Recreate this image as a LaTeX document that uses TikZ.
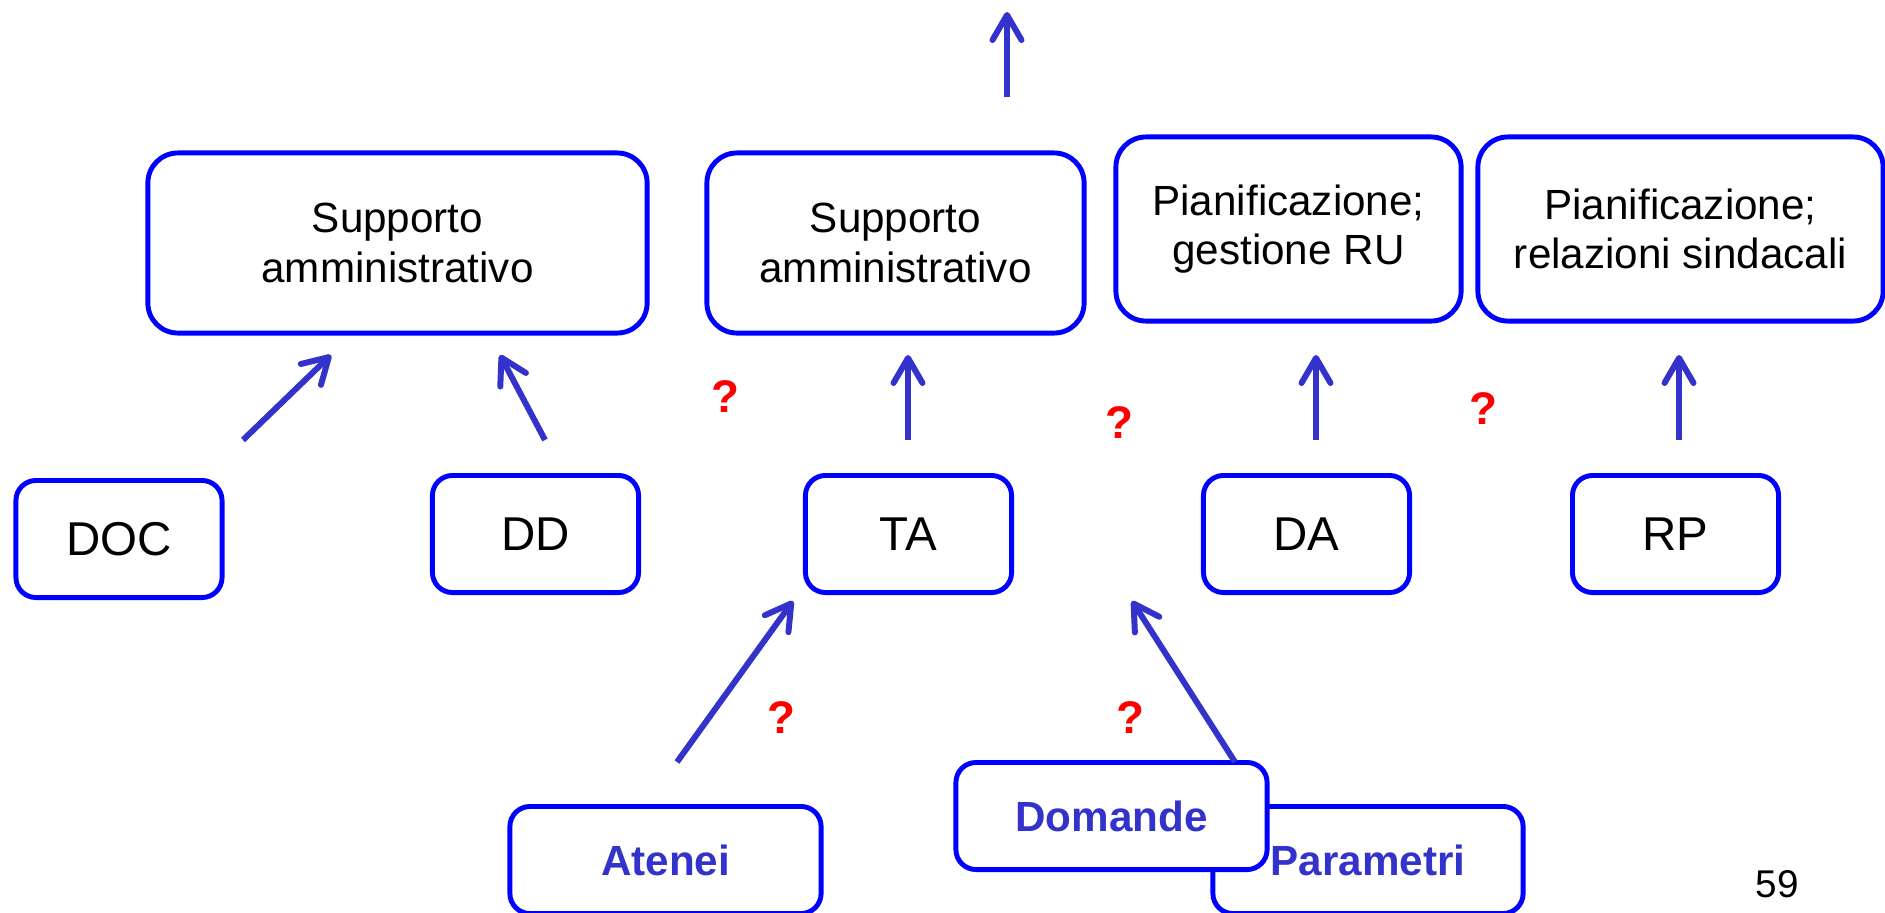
\documentclass[tikz,border=0pt]{standalone}
\usepackage{fontspec}
\setmainfont{Liberation Sans}
\usetikzlibrary{arrows.meta, positioning}
\definecolor{blu}{RGB}{0,0,255}
\definecolor{frcblu}{RGB}{51,51,204}
\tikzset{
  uff/.style = {draw=blu, fill=white, rounded corners=0.3cm, line width=1.4pt,
    align=center, inner sep=0pt, font=\fontsize{12}{14}\selectfont},
  sig/.style = {draw=blu, fill=white, rounded corners=0.2cm, line width=1.4pt,
    minimum width=2.06cm, minimum height=1.17cm, inner sep=0pt,
    font=\fontsize{13.5}{16}\selectfont},
  dat/.style = {draw=blu, fill=white, rounded corners=0.2cm, line width=1.4pt,
    minimum width=3.11cm, minimum height=1.07cm, inner sep=0pt, text=frcblu,
    font=\bfseries\fontsize{12}{14}\selectfont},
  frc/.style = {-{Straight Barb[length=2.5mm, width=2.9mm, round]},
    line width=1.7pt, draw=frcblu},
  qm/.style = {text=red, font=\bfseries\fontsize{13}{15}\selectfont}
}

\begin{document}
\begin{tikzpicture}[x=0.01cm, y=-0.01cm]
  \clip (0,0) rectangle (1885,912);
  \fill[white] (0,0) rectangle (1885,912);

  % uffici
  \node [uff, minimum width=4.99cm, minimum height=1.80cm] (sup1) at (397.5,243) {Supporto\\amministrativo};
  \node [uff, minimum width=3.77cm, minimum height=1.80cm] (sup2) at (895.5,243) {Supporto\\amministrativo};
  \node [uff, minimum width=3.45cm, minimum height=1.84cm] (pian1) at (1288.5,229) {Pianificazione;\\gestione RU};
  \node [uff, minimum width=4.05cm, minimum height=1.84cm] (pian2) at (1680.5,229) {Pianificazione;\\relazioni sindacali};

  % sigle
  \node [sig] (doc) at (119,539) {DOC};
  \node [sig] (dd) at (535.5,534) {DD};
  \node [sig] (ta) at (908.5,534) {TA};
  \node [sig] (da) at (1306.5,534) {DA};
  \node [sig] (rp) at (1675.5,534) {RP};

  % dati
  \node [dat] (atenei) at (665.5,860) {Atenei};
  \node [dat, minimum width=3.10cm] (param) at (1368,860) {Parametri};
  \node [dat] (domande) at (1111.5,816) {Domande};

  % frecce
  \coordinate (t0) at (1007,97);   \coordinate (t1) at (1007,12);
  \coordinate (a0) at (243,440);   \coordinate (a1) at (331,355);
  \coordinate (b0) at (545,440);   \coordinate (b1) at (500,355);
  \coordinate (c0) at (908,440);   \coordinate (c1) at (908,355);
  \coordinate (d0) at (1316,440);  \coordinate (d1) at (1316,355);
  \coordinate (e0) at (1679,440);  \coordinate (e1) at (1679,355);
  \coordinate (f0) at (677,762);   \coordinate (f1) at (793,601);
  \coordinate (g0) at (1235,762);  \coordinate (g1) at (1132,601);
  \foreach \s/\e in {t0/t1, a0/a1, b0/b1, c0/c1, d0/d1, e0/e1, f0/f1, g0/g1}
    \draw [frc] (\s) -- (\e);

  \node [qm] (q1) at (725,397) {?};
  \node [qm] (q2) at (1119,423) {?};
  \node [qm] (q3) at (1483,409) {?};
  \node [qm] (q4) at (781,718) {?};
  \node [qm] (q5) at (1130,718) {?};

  \node [font=\fontsize{11}{13}\selectfont] (pag) at (1777,884) {59};
\end{tikzpicture}
\end{document}
